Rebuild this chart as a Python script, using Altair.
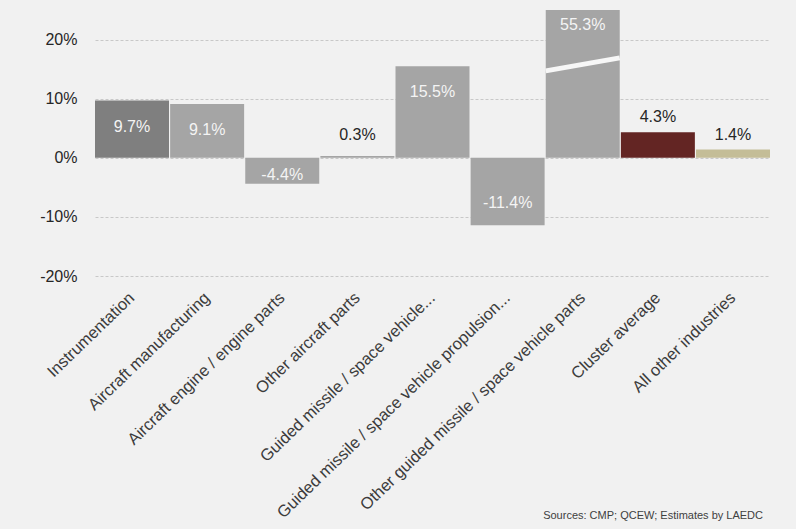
import altair as alt
import pandas as pd

categories = [
    "Instrumentation",
    "Aircraft manufacturing",
    "Aircraft engine / engine parts",
    "Other aircraft parts",
    "Guided missile / space vehicle...",
    "Guided missile / space vehicle propulsion...",
    "Other guided missile / space vehicle parts",
    "Cluster average",
    "All other industries",
]
changes = [9.7, 9.1, -4.4, 0.3, 15.5, -11.4, 55.3, 4.3, 1.4]
label_at = [5.25, 4.75, -2.9, 3.9, 11.2, -7.6, 22.5, 6.95, 3.9]
label_inside = [True, True, True, False, True, True, True, False, False]
bar_colors = ["#7f7f7f", "#a5a5a5", "#a5a5a5", "#a5a5a5", "#a5a5a5",
              "#a5a5a5", "#a5a5a5", "#632523", "#c4bd97"]
break_cat = ["Other guided missile / space vehicle parts"]
break_from = [14.7]
break_to = [16.9]

df = pd.DataFrame({
    "cat": categories,
    "change": changes,
    "label_at": label_at,
    "inside": label_inside,
})
df["label"] = [f"{v:.1f}%" for v in changes]
df_break = pd.DataFrame({"cat": break_cat, "y1": break_from, "y2": break_to})

FONT = "Liberation Sans"

x_enc = alt.X(
    "cat:N",
    sort=categories,
    scale=alt.Scale(paddingInner=0.015, paddingOuter=0),
    axis=alt.Axis(
        title=None, labelAngle=-44, labelAlign="right", labelBaseline="middle",
        labelPadding=19, domain=False, ticks=False, labelFontSize=16.5,
        labelFont=FONT, labelColor="#3c3c3c", labelLimit=500,
    ),
)
y_scale = alt.Scale(domain=[-20, 25], nice=False, zero=False)

bars = alt.Chart(df).mark_bar(clip=True).encode(
    x=x_enc,
    y=alt.Y(
        "change:Q",
        scale=y_scale,
        axis=alt.Axis(
            values=[-20, -10, 0, 10, 20], labelExpr="datum.value + '%'",
            title=None, domain=False, ticks=False, grid=True,
            gridDash=[3, 2], gridColor="#c8c8c8", gridWidth=1,
            labelPadding=18, labelFontSize=16, labelFont=FONT,
            labelColor="#262626",
        ),
    ),
    color=alt.Color("cat:N", scale=alt.Scale(domain=categories, range=bar_colors), legend=None),
)

labels = alt.Chart(df).mark_text(fontSize=16, font=FONT, baseline="middle").encode(
    x=alt.X("cat:N", sort=categories),
    y=alt.Y("label_at:Q", scale=y_scale),
    text="label:N",
    color=alt.condition("datum.inside", alt.value("#f4f4f4"), alt.value("#262626")),
)

brk = alt.Chart(df_break).mark_rule(color="#f7f7f7", strokeWidth=5, strokeCap="butt").encode(
    x=alt.X("cat:N", sort=categories, bandPosition=0),
    x2=alt.X2("cat", bandPosition=1),
    y=alt.Y("y1:Q", scale=y_scale),
    y2="y2:Q",
)

chart = alt.layer(bars, brk, labels).properties(
    width=675,
    height=266,
    autosize=alt.AutoSizeParams(type="none"),
    padding={"left": 95, "top": 10, "right": 26, "bottom": 253},
    title=alt.TitleParams(
        "Sources: CMP; QCEW; Estimates by LAEDC", orient="bottom", anchor="end",
        fontSize=11, fontWeight="normal", font=FONT, color="#404040",
        offset=-2, dx=-7, baseline="alphabetic",
    ),
).configure(background="#f1f1f1").configure_view(stroke=None)

chart.save("out.html", embed_options={"renderer": "svg", "actions": False})
